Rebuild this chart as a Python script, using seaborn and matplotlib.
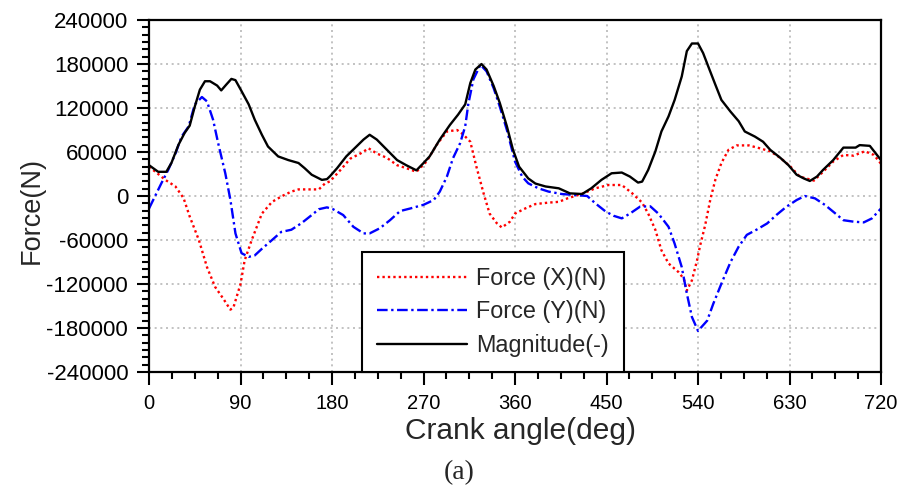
import numpy as np
import pandas as pd
import matplotlib
matplotlib.use("Agg")
import matplotlib.pyplot as plt
from matplotlib.ticker import MultipleLocator
import seaborn as sns

# Crank angle positions (deg) and force components (N)
angle_x = [0, 9, 16, 26, 34, 40, 49, 57, 65, 73, 80, 83, 90, 94, 101, 111, 121, 131, 140, 147,
           157, 167, 173, 178, 188, 198, 208, 216, 224, 234, 244, 253, 263, 273, 283, 293, 303,
           309, 316, 322, 329, 335, 342, 347, 355, 360, 370, 380, 393, 403, 412, 426, 439, 452,
           465, 475, 485, 491, 498, 504, 511, 521, 526, 529, 534, 539, 542, 547, 552, 557, 563,
           570, 578, 590, 601, 611, 621, 631, 640, 654, 663, 673, 683, 693, 704, 713, 720]
force_x = [40000, 30000, 22000, 13000, -3000, -28000, -60000, -97000, -124000, -140000, -155000,
           -152000, -120000, -88000, -60000, -24000, -8000, 0, 6000, 9000, 9000, 9000, 17000,
           20000, 35000, 51000, 58000, 65000, 58000, 52000, 42000, 38000, 33000, 47000, 70000,
           88000, 90000, 84000, 74000, 40000, 4000, -24000, -37000, -43000, -35000, -24000,
           -17000, -11000, -9000, -8000, -3000, 3000, 10500, 15000, 15000, 4000, -9000, -24000,
           -46000, -74000, -92000, -104000, -113000, -129000, -115000, -88000, -68000, -40000,
           -5500, 22000, 45000, 63000, 69000, 69000, 65000, 61000, 52000, 40000, 26500, 21000,
           33000, 47000, 56000, 55000, 61000, 56000, 44000]

angle_y = [0, 6, 12, 19, 26, 32, 39, 45, 52, 57, 63, 68, 75, 80, 85, 91, 98, 104, 111, 121, 130,
           140, 150, 160, 167, 175, 181, 191, 201, 211, 217, 227, 237, 247, 257, 270, 280, 286,
           293, 299, 306, 311, 314, 319, 326, 332, 339, 345, 352, 360, 367, 373, 383, 393, 406,
           419, 431, 439, 449, 457, 465, 473, 483, 493, 501, 511, 517, 524, 529, 534, 540, 549,
           555, 563, 572, 580, 588, 598, 608, 617, 627, 637, 645, 655, 665, 675, 683, 693, 703,
           711, 720]
force_y = [-17000, 0, 17000, 36000, 58000, 81000, 95000, 125000, 135000, 129000, 104000, 72000,
           31000, -5000, -51000, -78000, -83000, -81000, -72000, -60000, -49000, -46000, -37000,
           -26000, -18000, -15500, -18000, -26000, -42000, -51000, -51000, -44000, -33000,
           -20500, -17000, -12000, -5500, 6000, 26500, 51600, 72000, 95000, 125000, 159000,
           179000, 170000, 147000, 122000, 90000, 47000, 26500, 17300, 10500, 6000, 2700, 1400,
           0, -10000, -21000, -27000, -30500, -24000, -14500, -14000, -24000, -42000, -65000,
           -97000, -133000, -165000, -184000, -170000, -147000, -119500, -90000, -69000, -53000,
           -45600, -37400, -26000, -14600, -5500, 0, -3200, -12300, -23700, -33000, -35000,
           -36000, -30600, -17000]

angle_m = [0, 9, 17, 22, 29, 35, 40, 45, 50, 55, 60, 67, 71, 76, 81, 85, 91, 98, 104, 111, 117,
           127, 137, 147, 153, 160, 170, 175, 178, 185, 194, 204, 211, 217, 224, 234, 244, 253,
           263, 270, 276, 286, 296, 304, 311, 316, 321, 327, 332, 339, 345, 352, 358, 364, 373,
           380, 390, 403, 414, 426, 435, 445, 455, 465, 473, 481, 485, 491, 498, 504, 511, 517,
           524, 529, 534, 540, 545, 550, 557, 563, 572, 580, 586, 596, 604, 611, 621, 629, 637,
           644, 650, 657, 663, 673, 683, 695, 699, 709, 716, 720]
magnitude = [42000, 33000, 33000, 45000, 70000, 86000, 96000, 122000, 145000, 156500, 156500,
             150600, 144000, 152000, 159700, 158000, 143000, 125000, 104000, 83500, 67500, 54000,
             49000, 45000, 38000, 29000, 22000, 23000, 27000, 38000, 54000, 67500, 77000, 83500,
             77000, 63000, 49000, 42000, 35000, 45000, 54000, 77000, 97000, 111000, 125000,
             154000, 172500, 180000, 172500, 150000, 127000, 95000, 63000, 40000, 24000, 17000,
             13000, 10500, 3600, 2700, 10500, 22000, 31000, 32000, 26500, 18300, 19600, 35600,
             60700, 88000, 108600, 131000, 163000, 197600, 208000, 208000, 195000, 177000,
             152000, 131000, 115000, 102000, 88000, 81000, 74000, 63000, 52000, 42000, 29000,
             24000, 20500, 26500, 35600, 49000, 66000, 66000, 69400, 68400, 56000, 49000]

series_labels = ["Force (X)(N)", "Force (Y)(N)", "Magnitude(-)"]
x_ticks = [0, 90, 180, 270, 360, 450, 540, 630, 720]
y_ticks = [-240000, -180000, -120000, -60000, 0, 60000, 120000, 180000, 240000]

sns.set_style("white")
plt.rcParams["font.family"] = ["Liberation Sans", "DejaVu Sans"]

fig = plt.figure(figsize=(9.0, 4.86), dpi=100)
ax = fig.add_axes([0.1656, 0.2346, 0.8133, 0.7242])

df_x = pd.DataFrame({"angle": angle_x, "force": force_x})
df_y = pd.DataFrame({"angle": angle_y, "force": force_y})
df_m = pd.DataFrame({"angle": angle_m, "force": magnitude})

sns.lineplot(data=df_x, x="angle", y="force", ax=ax, color="#ff0000", lw=1.7,
             linestyle=(0, (1, 1.3)), label=series_labels[0], estimator=None)
sns.lineplot(data=df_y, x="angle", y="force", ax=ax, color="#0000ff", lw=1.7,
             linestyle=(0, (4.5, 1.5, 1, 1.5)), label=series_labels[1], estimator=None)
sns.lineplot(data=df_m, x="angle", y="force", ax=ax, color="black", lw=1.7,
             linestyle="-", label=series_labels[2], estimator=None)

ax.set_xlim(0, 720)
ax.set_ylim(-240000, 240000)
ax.set_xticks(x_ticks)
ax.set_yticks(y_ticks)
ax.set_xticklabels([str(t) for t in x_ticks], fontsize=14.5)
ax.set_yticklabels([str(t) for t in y_ticks], fontsize=16)
ax.xaxis.set_minor_locator(MultipleLocator(22.5))
ax.yaxis.set_minor_locator(MultipleLocator(10000))
ax.tick_params(axis="both", which="major", direction="out", length=9, width=1.5,
               color="black", labelcolor="black")
ax.tick_params(axis="both", which="minor", direction="out", length=5, width=1.5,
               color="black")
ax.tick_params(axis="x", which="both", bottom=True, top=False, pad=7)
ax.tick_params(axis="y", which="both", left=True, right=False, pad=6)

ax.grid(True, which="major", color="#b8b8b8", linestyle=(0, (1.2, 2.2)), lw=1.2)
ax.set_axisbelow(True)
for spine in ax.spines.values():
    spine.set_visible(True)
    spine.set_color("black")
    spine.set_linewidth(1.6)

ax.set_xlabel("Crank angle(deg)", fontsize=21.5)
ax.set_ylabel("Force(N)", fontsize=19.5)
ax.xaxis.set_label_coords(0.508, -0.128)
ax.yaxis.set_label_coords(-0.142, 0.46)

leg = ax.legend(loc="lower left", bbox_to_anchor=(0.291, 0.0), borderaxespad=0,
                fontsize=16.8, handlelength=3.85, handletextpad=0.38, labelspacing=0.45,
                borderpad=0.65, frameon=True, fancybox=False, framealpha=1)
leg.get_frame().set_edgecolor("black")
leg.get_frame().set_linewidth(1.5)

fig.text(0.51, 0.027, "(a)", ha="center", va="center", fontsize=20,
         family=["Liberation Serif", "DejaVu Serif"])

fig.savefig("out.png", dpi=100)
